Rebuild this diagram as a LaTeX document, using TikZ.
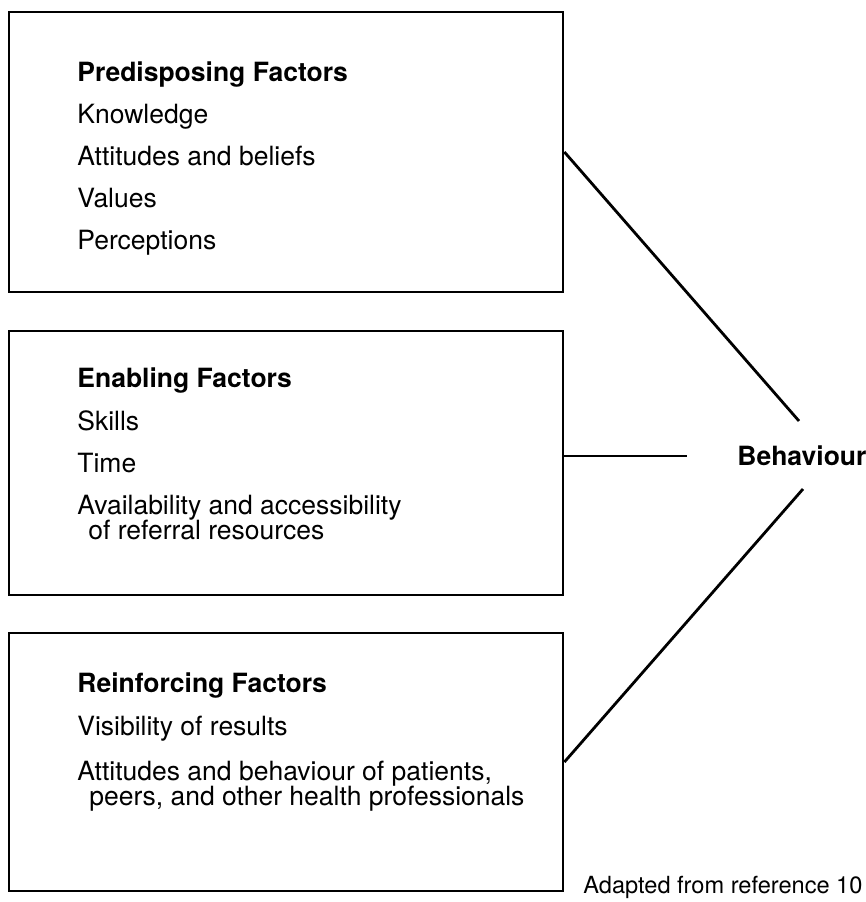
\documentclass[tikz,border=0pt]{standalone}
\usepackage{fontspec}
\setmainfont{TeX Gyre Heros}
\begin{document}
\begin{tikzpicture}[x=0.5pt, y=-0.5pt,
    box/.style={draw, line width=1.4pt, inner sep=0pt, minimum width=277pt},
    head/.style={anchor=base west, inner sep=0pt,
        font=\fontsize{13.25}{16}\selectfont\bfseries},
    item/.style={anchor=base west, inner sep=0pt,
        font=\fontsize{13.25}{16}\selectfont},
    link/.style={line width=1.4pt}]
    \useasboundingbox (0,0) rectangle (866,902);
    % the three boxes
    \node[box, minimum height=140pt] (pre) at (286,152) {};
    \node[box, minimum height=132pt] (ena) at (286,463) {};
    \node[box, minimum height=129pt] (rei) at (286,762) {};
    % predisposing
    \node[head] (pretitle) at (77,81) {Predisposing Factors};
    \node[item] (know) at (77,123) {Knowledge};
    \node[item] (attbel) at (77,165) {Attitudes and beliefs};
    \node[item] (values) at (77,207) {Values};
    \node[item] (percep) at (77,249) {Perceptions};
    % enabling
    \node[head] (enatitle) at (77,387) {Enabling Factors};
    \node[item] (skills) at (77,430) {Skills};
    \node[item] (time) at (77,472) {Time};
    \node[item] (avail) at (77,514) {Availability and accessibility};
    \node[item] (referral) at (88,539) {of referral resources};
    % reinforcing
    \node[head] (reititle) at (77,692) {Reinforcing Factors};
    \node[item] (visib) at (77,735) {Visibility of results};
    \node[item] (attbeh) at (77,780) {Attitudes and behaviour of patients,};
    \node[item] (peers) at (89,805) {peers, and other health professionals};
    % behaviour and the links to it
    \node[head] (beh) at (737,465) {Behaviour};
    \coordinate (toppt) at (799,421);
    \coordinate (midpt) at (687,456);
    \coordinate (botpt) at (803,489);
    \draw[link] (pre.east) -- (toppt);
    \draw[link] (ena.east |- midpt) -- (midpt);
    \draw[link] (rei.east) -- (botpt);
    \node[anchor=base west, inner sep=0pt, font=\fontsize{11.8}{14}\selectfont]
        (source) at (583,893) {Adapted from reference 10};
\end{tikzpicture}
\end{document}
